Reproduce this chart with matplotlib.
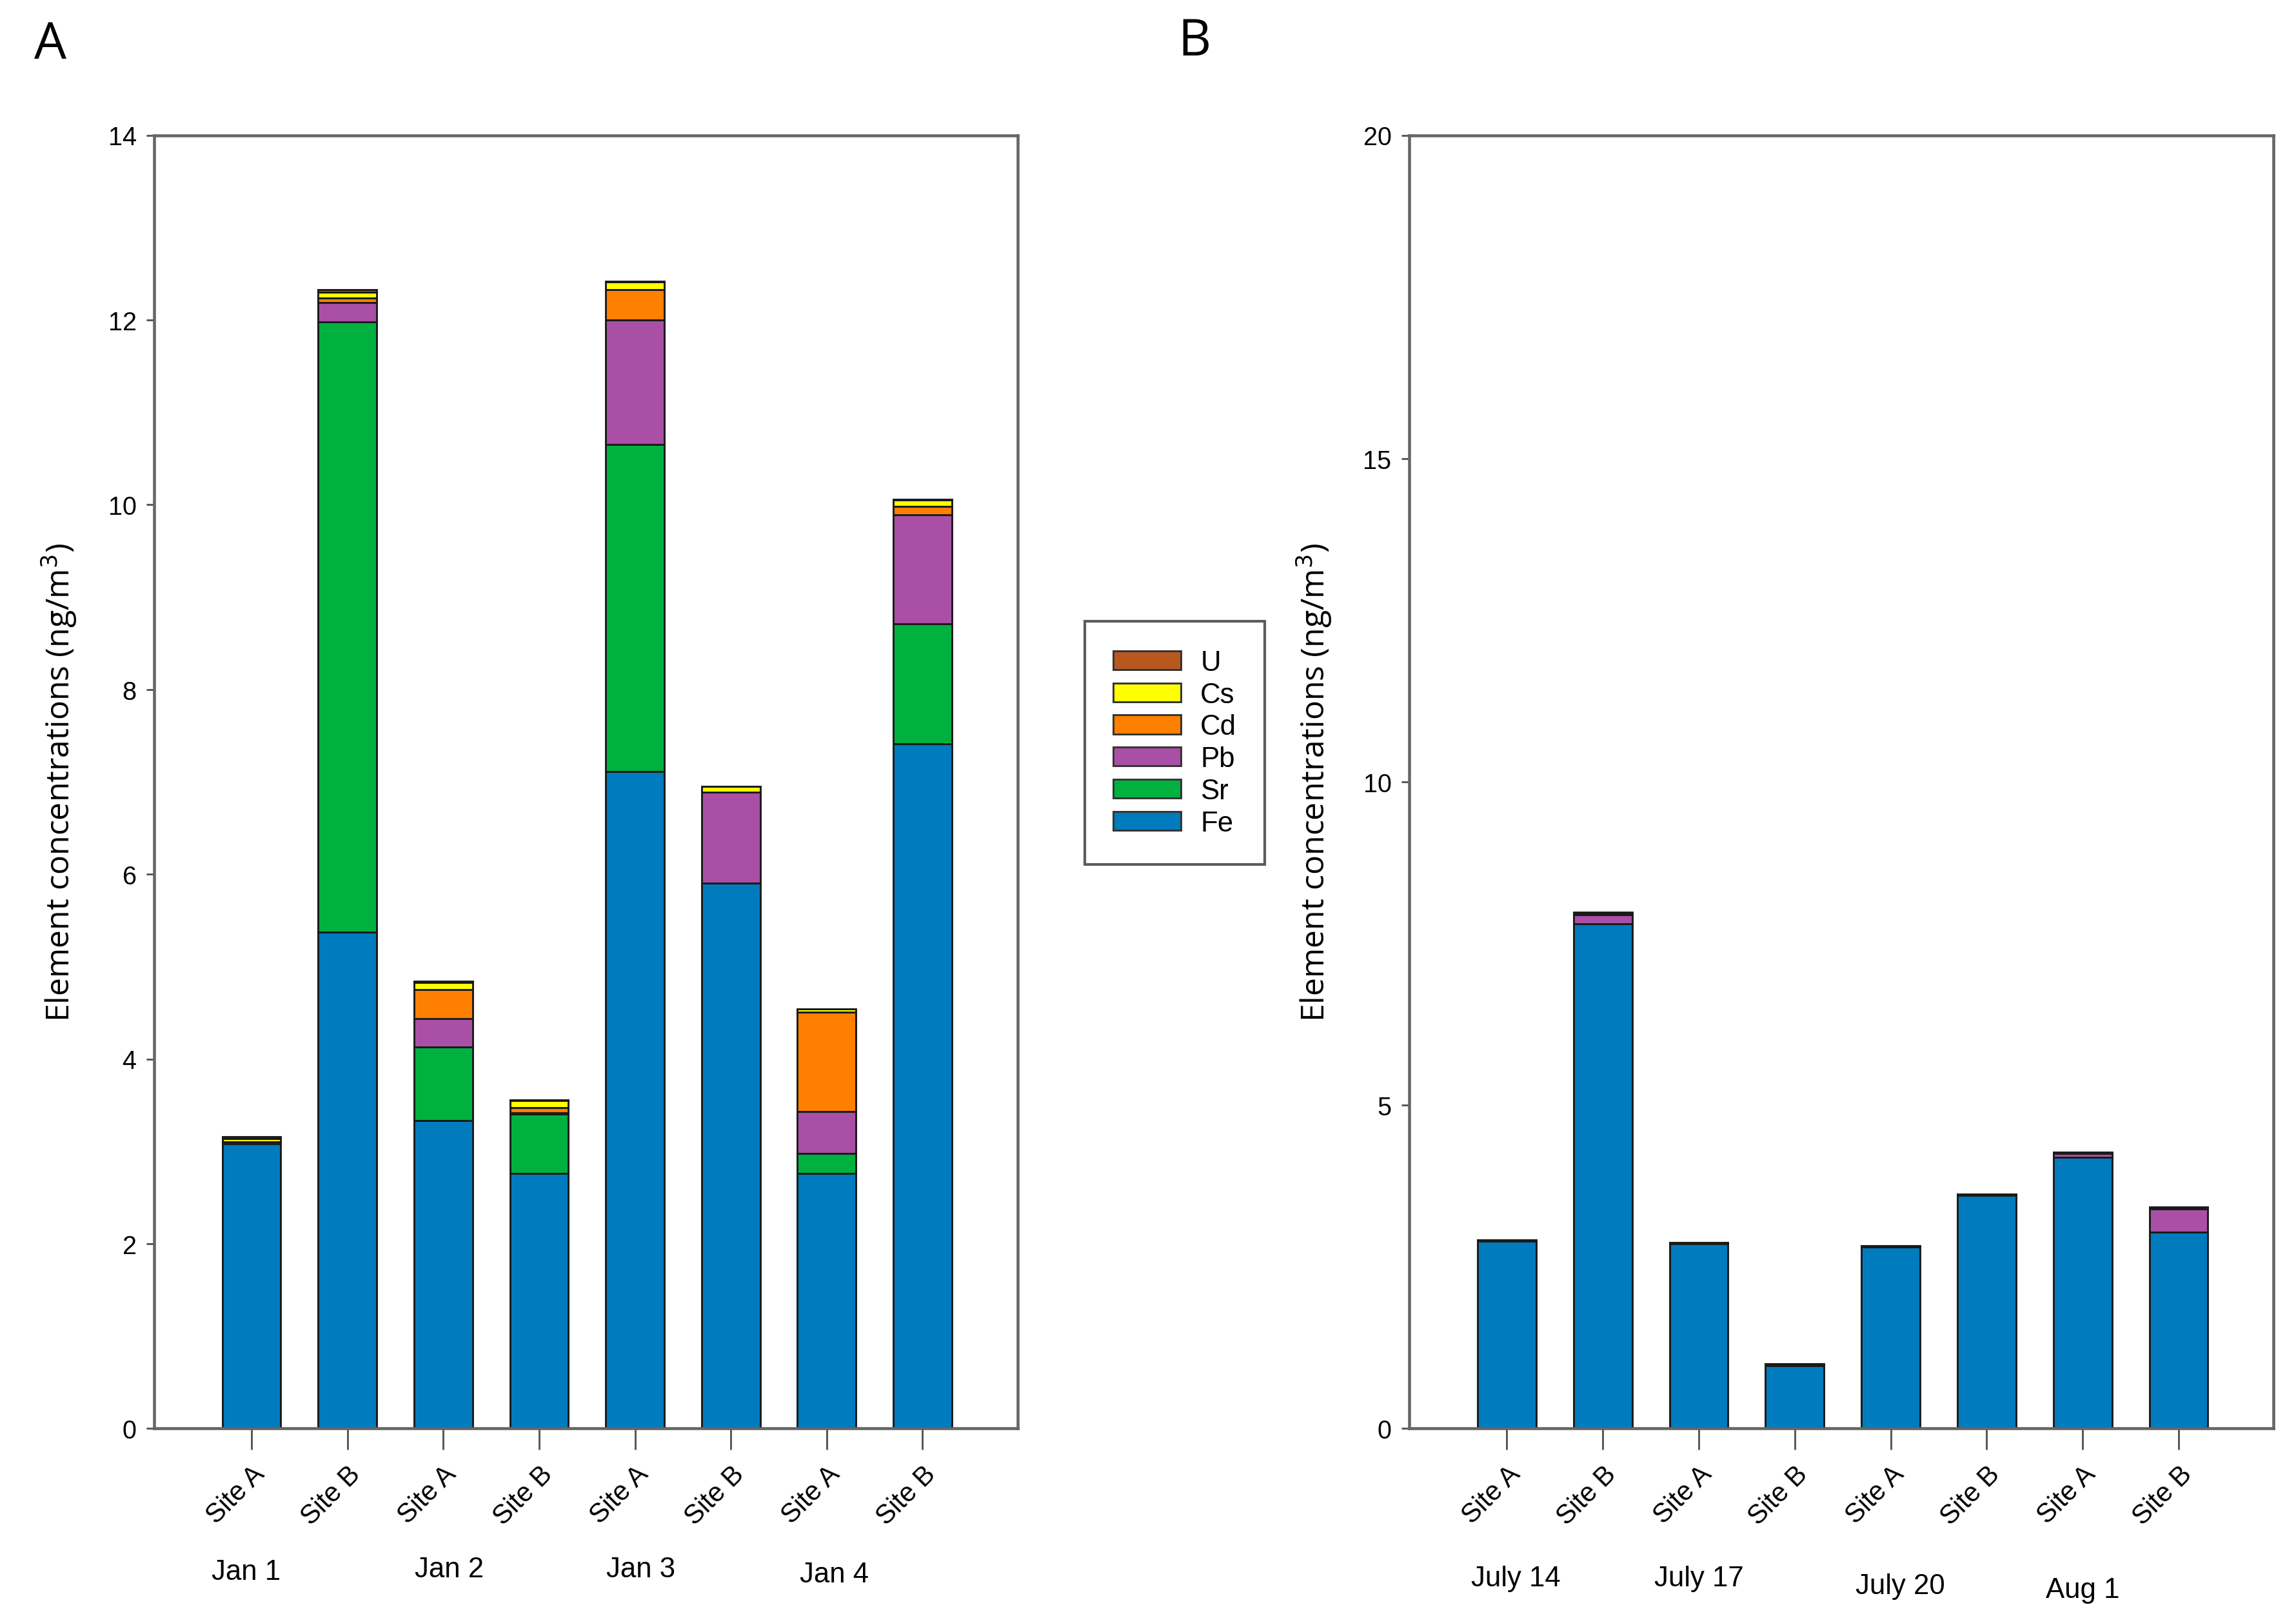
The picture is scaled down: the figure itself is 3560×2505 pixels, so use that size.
import numpy as np
import matplotlib
matplotlib.use('Agg')
import matplotlib.pyplot as plt
from matplotlib.patches import Patch

plt.rcParams['font.family'] = ['Liberation Sans', 'DejaVu Sans']

elements = ['Fe', 'Sr', 'Pb', 'Cd', 'Cs', 'U']
colors = ['#007BBD', '#00B140', '#AA4FA6', '#FF8000', '#FFFF00', '#B8581F']

sites = ['Site A', 'Site B'] * 4

# Panel A (winter)
dates_a = ['Jan 1', 'Jan 2', 'Jan 3', 'Jan 4']
fe_a = [3.08, 5.37, 3.33, 2.76, 7.11, 5.90, 2.76, 7.41]
sr_a = [0.00, 6.61, 0.80, 0.64, 3.54, 0.00, 0.22, 1.30]
pb_a = [0.02, 0.21, 0.31, 0.02, 1.35, 0.99, 0.45, 1.18]
cd_a = [0.00, 0.05, 0.31, 0.05, 0.33, 0.00, 1.08, 0.09]
cs_a = [0.04, 0.06, 0.08, 0.08, 0.08, 0.06, 0.03, 0.07]
u_a = [0.02, 0.03, 0.01, 0.01, 0.01, 0.00, 0.00, 0.01]

# Panel B (summer)
dates_b = ['July 14', 'July 17', 'July 20', 'Aug 1']
fe_b = [2.90, 7.80, 2.86, 0.97, 2.81, 3.60, 4.19, 3.04]
sr_b = [0.00, 0.00, 0.00, 0.00, 0.00, 0.00, 0.00, 0.00]
pb_b = [0.00, 0.14, 0.00, 0.00, 0.00, 0.00, 0.06, 0.36]
cd_b = [0.00, 0.00, 0.00, 0.00, 0.00, 0.00, 0.00, 0.00]
cs_b = [0.01, 0.02, 0.01, 0.01, 0.01, 0.01, 0.01, 0.01]
u_b = [0.01, 0.02, 0.01, 0.02, 0.01, 0.01, 0.01, 0.02]

fig = plt.figure(figsize=(11.87, 8.353), dpi=300)
ax_a = fig.add_axes([0.067, 0.116, 0.376, 0.800])
ax_b = fig.add_axes([0.6135, 0.116, 0.3765, 0.800])


def draw_panel(ax, series, dates, ymax, ystep, date_dx, date_dy):
    x = np.arange(len(sites))
    bottom = np.zeros(len(sites))
    for vals, c in zip(series, colors):
        vals = np.array(vals)
        ax.bar(x, vals, width=0.61, bottom=bottom, color=c,
               edgecolor='#1a1a1a', linewidth=0.7)
        bottom += vals
    ax.set_xlim(-1.02, 7.99)
    ax.set_ylim(0, ymax)
    ax.set_yticks(np.arange(0, ymax + 0.1, ystep))
    ax.set_xticks(x)
    ax.set_xticklabels(sites, rotation=45, ha='right', rotation_mode='anchor',
                       fontsize=10)
    ax.tick_params(axis='x', length=8, width=0.7, color='#555555', pad=4)
    ax.tick_params(axis='y', length=3, width=0.7, color='#555555', labelsize=9.5)
    for s in ax.spines.values():
        s.set_color('#666666')
        s.set_linewidth(1.1)
    ax.set_ylabel('Element concentrations (ng/m$^3$)', fontsize=12,
                  family=['Open Sans', 'DejaVu Sans'], labelpad=11)
    for i, d in enumerate(dates):
        ax.text(2 * i + date_dx[i], date_dy[i], d, fontsize=10.5,
                ha='center', va='center',
                transform=ax.get_xaxis_transform())


draw_panel(ax_a, [fe_a, sr_a, pb_a, cd_a, cs_a, u_a], dates_a, 14, 2,
           [-0.06, 0.06, 0.06, 0.08], [-0.111, -0.109, -0.109, -0.113])
draw_panel(ax_b, [fe_b, sr_b, pb_b, cd_b, cs_b, u_b], dates_b, 20, 5,
           [0.09, 0.0, 0.1, 0.0], [-0.116, -0.116, -0.122, -0.125])

fig.text(0.022, 0.972, 'A', fontsize=19, family=['Open Sans', 'DejaVu Sans'],
         va='center', ha='center')
fig.text(0.520, 0.974, 'B', fontsize=19, family=['Open Sans', 'DejaVu Sans'],
         va='center', ha='center')

handles = [Patch(facecolor=c, edgecolor='#333333', linewidth=0.7, label=e)
           for e, c in zip(elements, colors)]
leg = fig.legend(handles=handles[::-1], loc='center',
                 bbox_to_anchor=(0.5115, 0.54), fontsize=10.5, frameon=True,
                 fancybox=False, handlelength=2.4, handleheight=0.65,
                 labelspacing=0.2, borderpad=1.0, handletextpad=0.7,
                 borderaxespad=0)
leg.get_frame().set_edgecolor('#333333')
leg.get_frame().set_linewidth(1.0)

fig.savefig('out.png', dpi=300)
